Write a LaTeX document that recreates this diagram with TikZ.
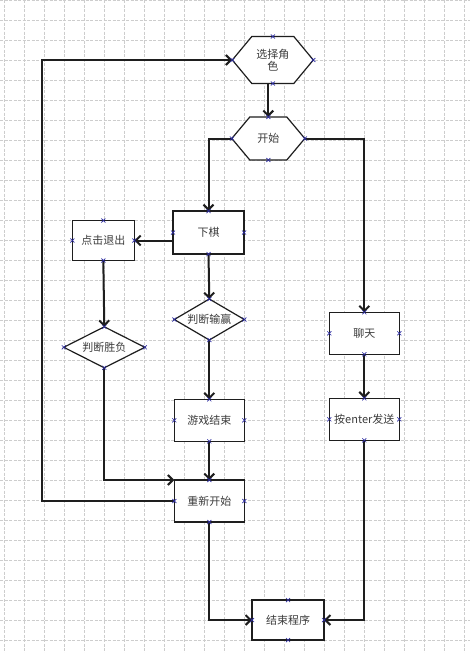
\documentclass[tikz,border=0pt]{standalone}
\usepackage{fontspec}
\setmainfont{Noto Sans CJK SC}
\usetikzlibrary{arrows.meta}
\definecolor{txt}{HTML}{3C3C3C}
\definecolor{mkc}{HTML}{2B2BA0}
\definecolor{gridc}{HTML}{CDCDCD}
\definecolor{lc}{HTML}{1E1E1E}
\newcommand\cfs{\fontsize{11}{12.5}\selectfont}
\tikzset{
 base/.style={inner sep=0pt, outer sep=0pt},
 boxs/.style={base, draw=lc, line width=1.4pt, fill=white, minimum width=70pt, minimum height=42pt, font=\cfs, text=txt},
 geo/.style={base},
 shapeline/.style={draw=lc, line width=1.2pt, fill=white, line join=miter},
 lbl/.style={font=\cfs, text=txt, align=center},
 conn/.style={line width=2pt, draw=lc, -{Straight Barb[length=5pt,width=10pt]}},
 crossmk/.pic={\draw[mkc, line width=0.7pt] (-2,-2)--(2,2) (-2,2)--(2,-2);},
 gridline/.style={gridc, line width=0.7pt, dash pattern=on 3pt off 1.5pt}
}
\begin{document}
\begin{tikzpicture}[x=1pt,y=-1pt]
\fill[white] (0,0) rectangle (470,653);
\useasboundingbox (0,0) rectangle (470,653);
% grid
\foreach \gx in {4,24,...,464} \draw[gridline] (\gx,0) -- (\gx,653);
\foreach \gy in {0,20,...,640} \draw[gridline] (0,\gy) -- (470,\gy);

% geometry nodes for hexagons and diamonds
\node[geo, minimum width=81pt, minimum height=47pt] (sel) at (272.8,60) {};
\node[geo, minimum width=73pt, minimum height=43pt] (start) at (268.3,138.5) {};
\node[geo, minimum width=70pt, minimum height=41pt] (pdsy) at (209.3,319.5) {};
\node[geo, minimum width=81pt, minimum height=41pt] (pdsf) at (104.3,347.3) {};

\draw[shapeline] (sel.west) -- ([xshift=19.5pt]sel.north west) -- ([xshift=-19.5pt]sel.north east) -- (sel.east) -- ([xshift=-19.5pt]sel.south east) -- ([xshift=19.5pt]sel.south west) -- cycle;
\draw[shapeline] (start.west) -- ([xshift=18pt]start.north west) -- ([xshift=-18pt]start.north east) -- (start.east) -- ([xshift=-18pt]start.south east) -- ([xshift=18pt]start.south west) -- cycle;
\draw[shapeline] (pdsy.west) -- (pdsy.north) -- (pdsy.east) -- (pdsy.south) -- cycle;
\draw[shapeline] (pdsf.west) -- (pdsf.north) -- (pdsf.east) -- (pdsf.south) -- cycle;

\node[lbl] at (sel.center) {选择角\\色};
\node[lbl] at (start.center) {开始};
\node[lbl] at (pdsy.center) {判断输赢};
\node[lbl] at (pdsf.center) {判断胜负};

% boxes
\node[boxs, minimum width=71pt, minimum height=43pt] (xiaqi) at (208.5,232.5) {下棋};
\node[boxs, minimum width=62pt, minimum height=40pt] (dianji) at (103.3,240.5) {点击退出};
\node[boxs] (yxjs) at (209.3,420.3) {游戏结束};
\node[boxs] (cxks) at (209.3,501) {重新开始};
\node[boxs] (liaotian) at (364.3,333.3) {聊天};
\node[boxs] (enter) at (364.3,419.3) {按enter发送};
\node[boxs, minimum width=72pt, minimum height=40pt] (jscx) at (288,620) {结束程序};

% connectors
\coordinate (lp) at (42.3,60);
\draw[conn] (start.north |- sel.south) -- (start.north);
\draw[conn] (start.west) -| (xiaqi.north);
\draw[conn] (start.east) -| (liaotian.north);
\draw[conn] (xiaqi.west |- dianji.east) -- (dianji.east);
\draw[conn] (xiaqi.south) -- (pdsy.north);
\draw[conn] (dianji.south) -- (pdsf.north);
\draw[conn] (pdsy.south) -- (yxjs.north);
\draw[conn] (yxjs.south) -- (cxks.north);
\draw[conn] (pdsf.south) |- (cxks.north west);
\draw[conn] (cxks.west) -- (cxks.west -| lp) |- (sel.west);
\draw[conn] (cxks.south) |- (jscx.west);
\draw[conn] (enter.south) |- (jscx.east);
\draw[conn] (liaotian.south) -- (enter.north);

% connection point markers
\foreach \n in {sel,start,pdsy,pdsf,xiaqi,dianji,yxjs,cxks,liaotian,enter,jscx}{
  \foreach \a in {north,south,east,west}{
    \pic at (\n.\a) {crossmk};
  }
}
\end{tikzpicture}
\end{document}
